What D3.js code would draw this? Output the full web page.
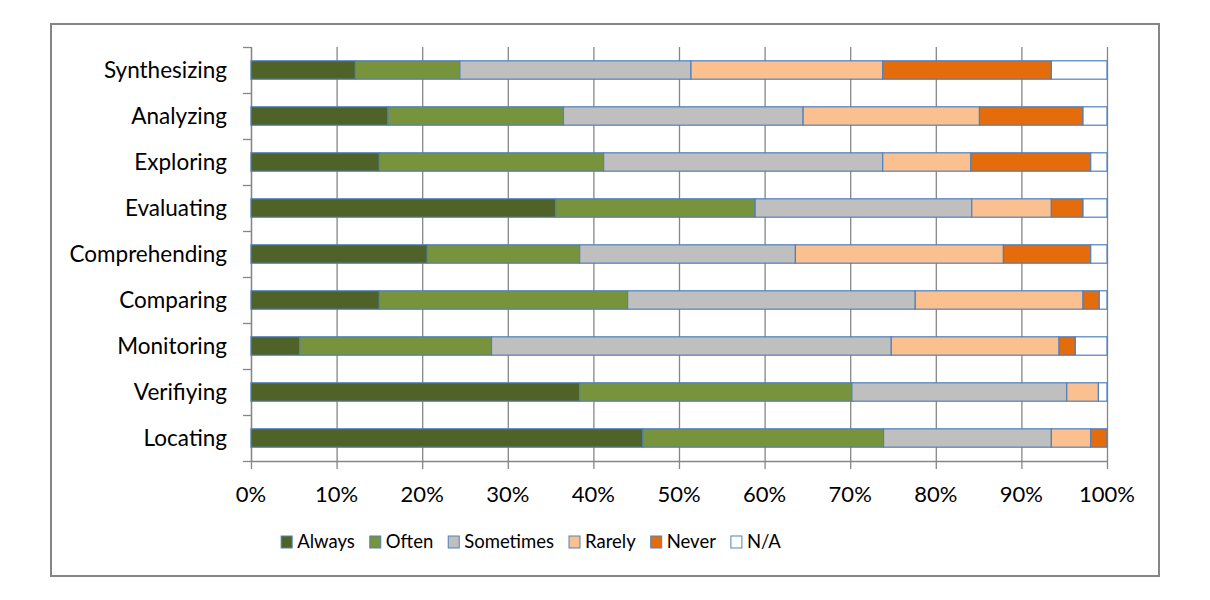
<!DOCTYPE html>
<html><head><meta charset="utf-8">
<script src="https://cdn.jsdelivr.net/npm/d3@7"></script>
<style>body{margin:0;background:#fff;} text{font-family:"Lato","Open Sans",sans-serif;fill:#000;}</style>
</head><body><svg id="c" width="1210" height="600"></svg>
<script>
const categories = ["Synthesizing","Analyzing","Exploring","Evaluating","Comprehending","Comparing","Monitoring","Verifiying","Locating"];
const seriesNames = ["Always","Often","Sometimes","Rarely","Never","N/A"];
const always    = [12.2, 16.0, 15.0, 35.6, 20.6, 15.0,  5.7, 38.4, 45.8];
const often     = [12.2, 20.5, 26.2, 23.3, 17.8, 29.0, 22.4, 31.8, 28.1];
const sometimes = [27.0, 28.0, 32.6, 25.3, 25.2, 33.6, 46.7, 25.1, 19.6];
const rarely    = [22.4, 20.6, 10.3,  9.3, 24.3, 19.6, 19.6,  3.7,  4.6];
const never     = [19.7, 12.1, 14.0,  3.7, 10.2,  1.9,  1.9,  0.0,  1.9];
const na        = [ 6.5,  2.8,  1.9,  2.8,  1.9,  0.9,  3.7,  1.0,  0.0];
const tickLabels = ["0%","10%","20%","30%","40%","50%","60%","70%","80%","90%","100%"];
const colors = ["#4F6228","#77933C","#BFBFBF","#FAC090","#E46C0A","#FFFFFF"];

const svg = d3.select("#c");
svg.append("rect").attr("x",51).attr("y",24).attr("width",1108).attr("height",552)
  .attr("fill","#fff").attr("stroke","#868686").attr("stroke-width",2);

const L=251, R=1107, T=47, B=461;
const x = d3.scaleLinear().domain([0,100]).range([L,R]);
const y = d3.scaleBand().domain(categories).range([T,B]).paddingInner(0.6).paddingOuter(0.3);
const yb = d3.scaleBand().domain(categories).range([T,B]);

// gridlines
const g = svg.append("g");
g.selectAll("line.grid").data(d3.range(0,101,10)).join("line")
  .attr("x1",d=>x(d)+0.5).attr("x2",d=>x(d)+0.5).attr("y1",T).attr("y2",B+8)
  .attr("stroke","#868686").attr("stroke-width",1.3);
// left axis ticks
g.selectAll("line.yt").data(d3.range(0,10)).join("line")
  .attr("x1",L-8).attr("x2",L).attr("y1",d=>T+d*yb.step()+0.5).attr("y2",d=>T+d*yb.step()+0.5)
  .attr("stroke","#868686").attr("stroke-width",1.3);
g.append("line").attr("x1",L+0.5).attr("x2",L+0.5).attr("y1",T).attr("y2",B).attr("stroke","#868686").attr("stroke-width",1.3);
g.append("line").attr("x1",L).attr("x2",R).attr("y1",B+0.5).attr("y2",B+0.5).attr("stroke","#868686").attr("stroke-width",1.3);

// stacked bars
const seriesVals=[always,often,sometimes,rarely,never,na];
const rows = categories.map((c,i)=>{const o={cat:c}; seriesNames.forEach((s,j)=>o[s]=seriesVals[j][i]); return o;});
const stack = d3.stack().keys(seriesNames)(rows);
svg.append("g").selectAll("g").data(stack).join("g").attr("fill",(d,i)=>colors[i])
  .selectAll("rect").data(d=>d).join("rect")
  .attr("x",d=>x(d[0])).attr("width",d=>x(d[1])-x(d[0]))
  .attr("y",d=>y(d.data.cat)).attr("height",y.bandwidth())
  .attr("stroke","#4F81BD").attr("stroke-width",1.2);

// category labels
svg.append("g").selectAll("text").data(categories).join("text")
  .attr("x",L-24).attr("y",d=>yb(d)+yb.bandwidth()/2).attr("dy","0.35em")
  .attr("text-anchor","end").attr("font-size",22.5).text(d=>d);
// x tick labels
svg.append("g").selectAll("text").data(tickLabels).join("text")
  .attr("x",(d,i)=>x(i*10)).attr("y",494).attr("dy","0.35em")
  .attr("text-anchor","middle").attr("font-size",22).text(d=>d);

// legend
const lg = svg.append("g");
const items = lg.selectAll("g").data(seriesNames).join("g");
items.append("rect").attr("width",11).attr("height",12).attr("y",-6)
  .attr("fill",(d,i)=>colors[i]).attr("stroke","#4F81BD").attr("stroke-width",1);
items.append("text").attr("x",16).attr("dy","0.35em").attr("font-size",18.5).text(d=>d);
let pos=[]; let cx=0;
items.each(function(d){ const w=d3.select(this).select("text").node().getComputedTextLength(); pos.push(cx); cx+=16+w+15; });
const total = cx-15;
const start = 531 - total/2;
items.attr("transform",(d,i)=>`translate(${start+pos[i]},542)`);
</script></body></html>
